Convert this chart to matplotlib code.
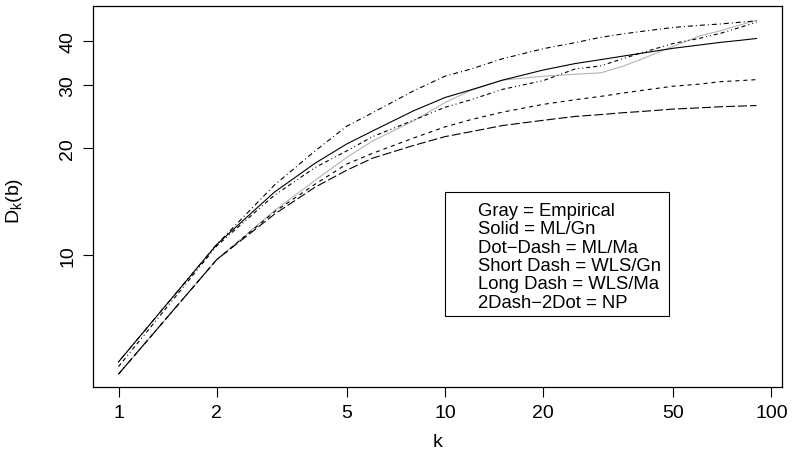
import matplotlib
matplotlib.use("Agg")
import matplotlib.pyplot as plt
from matplotlib.patches import Rectangle
import numpy as np

plt.rcParams['font.family'] = ['Liberation Sans', 'DejaVu Sans']
plt.rcParams['mathtext.default'] = 'regular'
plt.rcParams['lines.scale_dashes'] = False

# ---- data ----
k = [1, 2, 3, 4, 5, 6, 8, 10, 12, 15, 20, 25, 30, 35, 40, 50, 60, 70, 80, 90]

empirical = [4.62, 9.7, 13.3, 16.2, 18.8, 20.9, 23.8, 26.8, 29.0, 31.0, 31.8, 32.2, 32.5,
             33.9, 35.5, 38.6, 41.2, 42.7, 44.3, 45.6]
ml_gn = [5.0, 10.7, 15.0, 18.1, 20.5, 22.3, 25.4, 27.7, 29.1, 31.0, 33.1, 34.5, 35.4,
         36.2, 36.9, 38.1, 38.9, 39.6, 40.1, 40.6]
ml_ma = [5.0, 10.7, 15.7, 19.6, 23.0, 25.1, 28.9, 31.8, 33.3, 35.6, 38.0, 39.5, 40.9,
         41.8, 42.5, 43.6, 44.2, 44.6, 45.1, 45.5]
wls_gn = [4.62, 9.7, 13.2, 15.8, 18.0, 19.3, 21.3, 22.9, 24.0, 25.2, 26.5, 27.3, 27.9,
          28.5, 29.0, 29.8, 30.2, 30.7, 30.9, 31.1]
wls_ma = [4.62, 9.7, 13.0, 15.5, 17.3, 18.7, 20.3, 21.5, 22.2, 23.1, 23.9, 24.5, 24.8,
          25.1, 25.3, 25.7, 25.9, 26.1, 26.2, 26.3]
np_est = [4.85, 10.6, 14.7, 17.6, 19.6, 21.5, 23.9, 26.0, 27.3, 29.2, 30.9, 33.3, 34.0,
          35.6, 37.0, 39.3, 40.6, 42.0, 43.6, 45.1]

x_ticks = [1, 2, 5, 10, 20, 50, 100]
y_ticks = [10, 20, 30, 40]
legend_lines = ["Gray = Empirical", "Solid = ML/Gn", "Dot\u2212Dash = ML/Ma",
                "Short Dash = WLS/Gn", "Long Dash = WLS/Ma", "2Dash\u22122Dot = NP"]

# ---- figure ----
W, H = 793, 452
fig = plt.figure(figsize=(W / 100, H / 100), dpi=100)
ax = fig.add_axes([93 / W, 1 - 388 / H, (782 - 93) / W, (388 - 7) / H])
ax.set_xscale('log')
ax.set_yscale('log')

px = 0.72  # points per pixel
lw = 0.8

ax.plot(k, empirical, color='#b4b4b4', lw=lw, solid_joinstyle='round')
ax.plot(k, ml_gn, color='black', lw=lw)
ax.plot(k, ml_ma, color='black', lw=lw, dashes=[1 * px, 3 * px, 5 * px, 3 * px])
ax.plot(k, wls_gn, color='black', lw=lw, dashes=[4 * px, 4 * px])
ax.plot(k, wls_ma, color='black', lw=lw, dashes=[9 * px, 3 * px])
ax.plot(k, np_est, color='black', lw=lw,
        dashes=[4 * px, 3 * px, 4 * px, 3 * px, 1 * px, 3 * px, 1 * px, 3 * px])

# R-style 4% extension on log scale
lx0, lx1 = np.log10(min(k)), np.log10(max(k))
dx = 0.04 * (lx1 - lx0)
ax.set_xlim(10 ** (lx0 - dx), 10 ** (lx1 + dx))
ax.set_ylim(4.25, 50.1)

ax.set_xticks(x_ticks)
ax.set_xticklabels([str(t) for t in x_ticks])
ax.set_yticks(y_ticks)
ax.set_yticklabels([str(t) for t in y_ticks], rotation=90, va='center')
ax.minorticks_off()
ax.tick_params(axis='both', direction='out', length=7, width=0.8, labelsize=14, colors='black')
ax.tick_params(axis='x', pad=5)
ax.tick_params(axis='y', pad=5)
for s in ax.spines.values():
    s.set_linewidth(0.9)
    s.set_color('black')

ax.set_xlabel('k', fontsize=14)
ax.set_ylabel('D$_{k}$(b)', fontsize=14)
ax.xaxis.set_label_coords(0.5, -(434 - 388) / 381)
ax.yaxis.set_label_coords(-(93 - 25) / 689, 0.49)

# legend box drawn as in R (text only)
bx0, bx1 = (445 - 93) / 689, (669.3 - 93) / 689
by1, by0 = (388 - 193.3) / 381, (388 - 316.7) / 381
ax.add_patch(Rectangle((bx0, by0), bx1 - bx0, by1 - by0, transform=ax.transAxes,
                       fill=False, edgecolor='black', lw=0.8))
tx = (478 - 93) / 689
ty0 = (388 - 211.7) / 381
step = 18.3 / 381
for i, s in enumerate(legend_lines):
    ax.text(tx, ty0 - i * step, s, transform=ax.transAxes, fontsize=13.3,
            va='center', ha='left')

fig.savefig('out.png', dpi=100)
